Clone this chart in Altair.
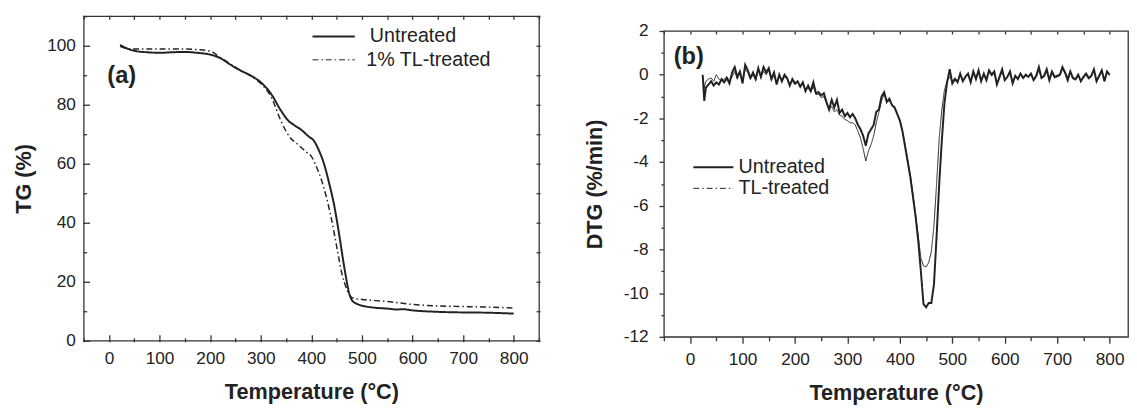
import altair as alt
import pandas as pd

FONT = "Liberation Sans"
INK = "#222222"
AX = "#333333"

# ---------------- data: panel (a) TG ----------------
series_a = ["Untreated", "1% TL-treated"]
tg_untreated_T = [22, 30, 40, 50, 60, 75, 100, 125, 150, 175,
                  200, 220, 240, 260, 280, 300, 320, 340, 355, 365,
                  380, 395, 405, 415, 425, 435, 445, 455, 465, 475,
                  480, 490, 500, 520, 550, 570, 580, 600, 650, 700,
                  750, 800]
tg_untreated = [100.3, 99.5, 98.8, 98.3, 98.0, 97.8, 97.6, 97.8, 97.9, 97.6,
                97.0, 95.8, 93.6, 91.6, 89.9, 87.6, 83.8, 78.0, 74.5, 73.2,
                71.5, 69.2, 67.8, 64.5, 60.0, 53.5, 46.0, 36.0, 25.0, 16.0,
                13.8, 12.5, 11.9, 11.3, 10.9, 10.6, 10.7, 10.3, 9.8, 9.6,
                9.5, 9.2]
tg_treated_T = [22, 30, 40, 50, 75, 100, 125, 150, 175, 200,
                220, 240, 260, 280, 300, 320, 340, 350, 360, 370,
                380, 390, 400, 410, 420, 430, 440, 450, 460, 470,
                480, 490, 500, 550, 600, 650, 700, 750, 800]
tg_treated = [99.8, 99.3, 99.0, 98.9, 98.9, 98.9, 98.9, 98.9, 98.7, 98.2,
              96.0, 93.8, 91.7, 89.8, 87.2, 82.8, 74.5, 71.0, 68.5, 67.0,
              65.5, 64.0, 62.5, 59.0, 54.5, 48.5, 41.0, 32.0, 23.0, 17.5,
              14.6, 14.2, 14.0, 13.3, 12.3, 11.8, 11.6, 11.4, 11.1]

# ---------------- data: panel (b) DTG ----------------
series_b = ["Untreated", "TL-treated"]
dtg_T = [24, 27, 30, 35, 40, 45, 50, 55, 60, 65, 70, 75, 80, 85, 90, 95,
         100, 105, 110, 115, 120, 125, 130, 135, 140, 145, 150, 155, 160, 165, 170, 175, 180, 185, 190, 195,
         200, 205, 210, 215, 220, 225, 230, 235, 240, 245, 250, 255, 260, 265, 270, 275, 280, 285, 290, 295,
         300, 305, 310, 315, 320, 325, 330, 335, 340, 345, 350, 355, 360, 365, 370, 375, 380, 385, 390, 395,
         400, 405, 410, 415, 420, 425, 430, 435, 440, 445, 450, 455, 460, 465, 470, 475, 480, 485, 490, 495,
         500, 505, 510, 515, 520, 525, 530, 535, 540, 545, 550, 555, 560, 565, 570, 575, 580, 585, 590, 595,
         600, 605, 610, 615, 620, 625, 630, 635, 640, 645, 650, 655, 660, 665, 670, 675, 680, 685, 690, 695,
         700, 705, 710, 715, 720, 725, 730, 735, 740, 745, 750, 755, 760, 765, 770, 775, 780, 785, 790, 795,
         800]
dtg_untreated = [0.0, -1.2, -0.6, -0.45, -0.3, -0.5, -0.35, -0.45, -0.2, -0.35, -0.15, -0.4, 0.1, 0.35, -0.1, 0.15,
                 -0.4, 0.45, 0.2, -0.15, 0.1, -0.2, 0.3, -0.1, 0.35, 0.1, 0.3, -0.2, 0.1, -0.45, 0.0, -0.3, 0.0, -0.15, -0.5, -0.2,
                 -0.4, -0.3, -0.55, -0.35, -0.75, -0.5, -0.75, -0.35, -0.85, -0.8, -0.95, -0.85, -1.25, -1.6, -1.15, -1.5, -1.15, -1.75, -1.6, -1.9,
                 -1.75, -1.95, -1.8, -2.0, -2.3, -2.5, -2.8, -3.25, -2.7, -2.5, -2.3, -1.7, -1.6, -1.0, -0.8, -1.25, -1.1, -1.4, -1.5, -1.8,
                 -2.1, -2.6, -3.3, -4.0, -4.7, -5.6, -6.5, -7.6, -9.0, -10.5, -10.65, -10.45, -10.45, -9.6, -7.4, -5.0, -3.0, -1.3, -0.35, 0.25,
                 -0.4, -0.2, -0.35, 0.05, -0.3, -0.1, 0.05, -0.35, 0.15, -0.2, 0.2, -0.3, 0.05, -0.25, 0.2, 0.0, 0.15, -0.45, -0.1, 0.25,
                 -0.25, -0.1, 0.15, -0.4, -0.05, -0.2, 0.05, -0.15, 0.0, -0.1, 0.05, -0.25, -0.05, 0.35, -0.15, -0.05, 0.25, -0.25, 0.15, -0.1,
                 -0.05, 0.0, 0.35, 0.1, -0.2, 0.15, -0.15, -0.2, 0.0, -0.3, -0.1, 0.05, -0.15, -0.05, 0.25, -0.3, -0.05, 0.2, -0.3, 0.15,
                 0.0]
dtg_treated = [-0.1, -0.6, -0.3, -0.2, -0.15, -0.3, 0.0, -0.2, -0.3, -0.2, -0.1, -0.3, -0.1, 0.15, -0.2, 0.1,
               -0.3, 0.25, 0.1, -0.2, 0.0, -0.25, 0.2, -0.1, 0.15, 0.0, 0.2, -0.25, 0.0, -0.4, -0.05, -0.3, -0.1, -0.2, -0.45, -0.3,
               -0.45, -0.35, -0.55, -0.45, -0.7, -0.6, -0.8, -0.55, -0.9, -0.9, -1.05, -1.0, -1.3, -1.6, -1.45, -1.7, -1.6, -1.85, -1.9, -2.05,
               -2.1, -2.2, -2.2, -2.3, -2.6, -2.9, -3.4, -3.95, -3.5, -3.2, -2.8, -2.2, -1.7, -1.2, -0.9, -1.2, -1.2, -1.35, -1.55, -1.8,
               -2.1, -2.6, -3.2, -3.9, -4.6, -5.5, -6.4, -7.4, -8.4, -8.75, -8.8, -8.6, -8.1, -6.9, -5.0, -2.9, -1.6, -0.7, -0.3, -0.1,
               -0.3, -0.15, -0.3, 0.0, -0.25, -0.1, 0.0, -0.3, 0.1, -0.2, 0.1, -0.3, 0.0, -0.2, 0.15, -0.05, 0.05, -0.4, -0.15, 0.15,
               -0.25, -0.1, 0.1, -0.35, -0.1, -0.2, 0.0, -0.15, -0.05, -0.1, 0.0, -0.25, -0.1, 0.2, -0.15, -0.1, 0.15, -0.25, 0.1, -0.15,
               -0.1, -0.05, 0.25, 0.05, -0.35, 0.1, -0.2, -0.25, -0.05, -0.3, -0.15, 0.0, -0.2, -0.1, 0.2, -0.3, -0.1, 0.15, -0.3, 0.1,
               -0.05]

# ---------------- tick values / labels ----------------
x_major = [0, 100, 200, 300, 400, 500, 600, 700, 800]
x_minor = [-50, 50, 150, 250, 350, 450, 550, 650, 750, 850]
tg_major = [0, 20, 40, 60, 80, 100]
tg_minor = [10, 30, 50, 70, 90, 110]
dtg_major = [-12, -10, -8, -6, -4, -2, 0, 2]
dtg_minor = [-11, -9, -7, -5, -3, -1, 1]
panel_labels = ["(a)", "(b)"]

df_a = pd.concat([
    pd.DataFrame({"T": tg_untreated_T, "v": tg_untreated, "series": series_a[0]}),
    pd.DataFrame({"T": tg_treated_T, "v": tg_treated, "series": series_a[1]}),
])
df_b = pd.concat([
    pd.DataFrame({"T": dtg_T, "v": dtg_untreated, "series": series_b[0]}),
    pd.DataFrame({"T": dtg_T, "v": dtg_treated, "series": series_b[1]}),
])

SOLID = [1, 0]
DASHDOT = [6, 3, 1.5, 3]


def tick_axis(values, orient, offset, size):
    return alt.Axis(values=values, orient=orient, offset=offset, ticks=True,
                    tickSize=size, tickWidth=1.3, tickColor=AX, labels=False,
                    domain=False, grid=False, title="")


def label_axis(values, title, pad, tpad, tsize, **kw):
    return alt.Axis(values=values, labelPadding=pad, labelFontSize=17.5,
                    labelFlush=False, labelColor=INK, labelFont=FONT,
                    domain=False, grid=False, title=title, titleFont=FONT,
                    titleFontSize=22, titleFontWeight="bold", titleColor=INK,
                    titlePadding=tpad, tickSize=tsize, tickWidth=1.3,
                    tickColor=AX, **kw)


def legend_layers(names, x0, x1, ys, txs, dashes, widths):
    out = []
    for name, y, tx, dash, w in zip(names, ys, txs, dashes, widths):
        d = pd.DataFrame({"label": [name]})
        out.append(alt.Chart(d).mark_rule(color=INK, strokeWidth=w, strokeDash=dash)
                   .encode(x=alt.value(x0), x2=alt.value(x1), y=alt.value(y)))
        out.append(alt.Chart(d).mark_text(align="left", baseline="middle", font=FONT,
                                          fontSize=20, color=INK)
                   .encode(x=alt.value(tx), y=alt.value(y), text="label:N"))
    return out


def panel_label(text, x, y):
    d = pd.DataFrame({"label": [text]})
    return alt.Chart(d).mark_text(align="left", baseline="middle", font=FONT,
                                  fontSize=24, fontWeight="bold", color=INK).encode(
        x=alt.value(x), y=alt.value(y), text="label:N")


def ghost(df, xs, ys, xaxis, yaxis):
    return alt.Chart(df).mark_line(opacity=0).encode(
        x=alt.X("T:Q", scale=xs, axis=xaxis), y=alt.Y("v:Q", scale=ys, axis=yaxis))


# ---------------- panel (a) ----------------
W1, H1 = 463, 330
xs1 = alt.Scale(domain=[-50, 850], nice=False, zero=False)
ys1 = alt.Scale(domain=[0, 110], nice=False, zero=False)

main1 = alt.Chart(df_a).mark_line(color=INK, interpolate="monotone").encode(
    x=alt.X("T:Q", scale=xs1,
            axis=label_axis(x_major, "Temperature (°C)", 8.7, 15.5, 0, ticks=False, format="d")),
    y=alt.Y("v:Q", scale=ys1,
            axis=label_axis(tg_major, "TG (%)", 8.5, 11.5, 0, ticks=False, format="d")),
    strokeDash=alt.StrokeDash("series:N", scale=alt.Scale(domain=series_a, range=[SOLID, DASHDOT]), legend=None),
    strokeWidth=alt.StrokeWidth("series:N", scale=alt.Scale(domain=series_a, range=[2, 1]), legend=None),
)

t1_major = ghost(df_a, xs1, ys1, tick_axis(x_major, "top", -(H1 + 1), 7),
                 tick_axis(tg_major, "right", -(W1 + 1), 7))
t1_minor = ghost(df_a, xs1, ys1, tick_axis(x_minor, "top", -(H1 + 1), 4),
                 tick_axis(tg_minor, "right", -(W1 + 1), 4))
t1_mirror = ghost(df_a, xs1, ys1, tick_axis(x_major + x_minor, "bottom", -(H1 + 1), 4),
                  tick_axis(tg_major + tg_minor, "left", -(W1 + 1), 4))

leg1 = legend_layers(series_a, 232.7, 275.7, [20.6, 44.3], [291, 287.4],
                     [SOLID, DASHDOT], [2, 1])

left = alt.layer(main1, t1_major, t1_minor, t1_mirror, *leg1,
                 panel_label(panel_labels[0], 24, 61.3)).resolve_axis(
    x="independent", y="independent").properties(width=W1, height=H1)

# ---------------- panel (b) ----------------
W2, H2 = 472, 311
xs2 = alt.Scale(domain=[-50, 835], nice=False, zero=False)
ys2 = alt.Scale(domain=[-12, 2], nice=False, zero=False)

main2 = alt.Chart(df_b).mark_line(color=INK).encode(
    x=alt.X("T:Q", scale=xs2,
            axis=label_axis(x_major, "Temperature (°C)", 7.2, 15.5, 6.5, format="d")),
    y=alt.Y("v:Q", scale=ys2,
            axis=label_axis(dtg_major, "DTG (%/min)", 11, 17, 5, labelExpr="'' + datum.value")),
    strokeDash=alt.StrokeDash("series:N", scale=alt.Scale(domain=series_b, range=[SOLID, DASHDOT]), legend=None),
    strokeWidth=alt.StrokeWidth("series:N", scale=alt.Scale(domain=series_b, range=[2, 1]), legend=None),
)

t2_minor = ghost(df_b, xs2, ys2, tick_axis(x_minor, "bottom", 0, 4),
                 tick_axis(dtg_minor, "left", 0, 3))
t2_mirror = ghost(df_b, xs2, ys2, tick_axis(x_major + x_minor, "bottom", -H2, 3), None)

leg2 = legend_layers(series_b, 30, 70.7, [138.6, 160], [76, 76],
                     [SOLID, DASHDOT], [2, 1])

right_panel = alt.layer(main2, t2_minor, t2_mirror, *leg2,
                        panel_label(panel_labels[1], 10, 26.8)).resolve_axis(
    x="independent", y="independent").properties(width=W2, height=H2)

# invisible strip that lowers panel (b) relative to panel (a)
spacer = alt.Chart(pd.DataFrame({"label": [""]})).mark_rule(strokeOpacity=0, strokeWidth=1).encode(
    x=alt.value(0), x2=alt.value(1), y=alt.value(0.5)).properties(
    width=W2, height=1, view=alt.ViewBackground(stroke="transparent", strokeWidth=0))

right = alt.vconcat(spacer, right_panel, spacing=4)

chart = alt.hconcat(left, right, spacing=42).properties(
    padding={"left": 4, "top": 2, "right": 0, "bottom": 0},
    background="white",
).configure_view(stroke=AX, strokeWidth=1.3)

chart.save("out.html", embed_options={"renderer": "svg", "actions": False})
